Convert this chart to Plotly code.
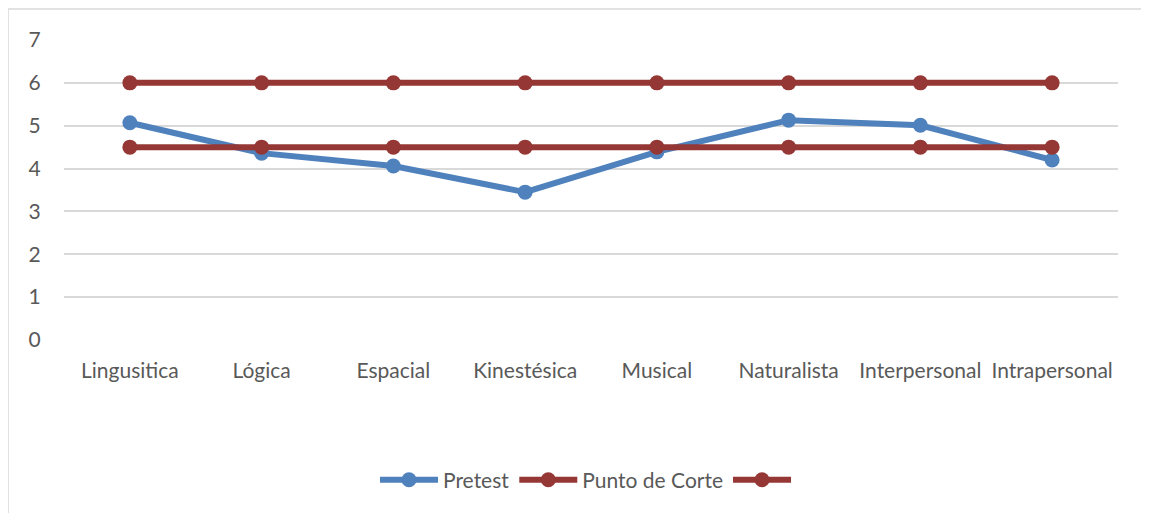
import plotly.graph_objects as go

categories = ["Lingusitica", "Lógica", "Espacial", "Kinestésica", "Musical",
              "Naturalista", "Interpersonal", "Intrapersonal"]
pretest = [5.07, 4.36, 4.06, 3.45, 4.39, 5.13, 5.01, 4.20]
punto_corte = [6, 6, 6, 6, 6, 6, 6, 6]
serie3 = [4.5, 4.5, 4.5, 4.5, 4.5, 4.5, 4.5, 4.5]
y_ticks = [0, 1, 2, 3, 4, 5, 6, 7]

BLUE = "#4F81BD"
RED = "#953735"
FONT = "Lato, 'Open Sans', sans-serif"

fig = go.Figure()
fig.add_trace(go.Scatter(x=categories, y=pretest, name="Pretest", mode="lines+markers",
                         line=dict(color=BLUE, width=6), marker=dict(size=15, color=BLUE)))
fig.add_trace(go.Scatter(x=categories, y=punto_corte, name="Punto de Corte", mode="lines+markers",
                         line=dict(color=RED, width=6), marker=dict(size=15, color=RED)))
fig.add_trace(go.Scatter(x=categories, y=serie3, name=" ", mode="lines+markers",
                         line=dict(color=RED, width=6), marker=dict(size=15, color=RED)))

# chart frame (left and top edges)
fig.add_shape(type="line", xref="paper", yref="paper", x0=-0.0531, x1=-0.0531, y0=1.1033, y1=-0.7,
              line=dict(color="#D9D9D9", width=1.5))
fig.add_shape(type="line", xref="paper", yref="paper", x0=-0.0531, x1=1.06, y0=1.1033, y1=1.1033,
              line=dict(color="#D9D9D9", width=1.5))

fig.update_layout(
    width=1149, height=513,
    margin=dict(l=56, r=39, t=32, b=181),
    paper_bgcolor="white", plot_bgcolor="white",
    font=dict(family=FONT, size=21, color="#595959"),
    showlegend=True,
    legend=dict(orientation="h", x=0.5, xanchor="center", y=-0.467, yanchor="middle",
                font=dict(size=21, color="#595959"), itemwidth=58, tracegroupgap=0),
)
fig.update_xaxes(showgrid=False, showline=False, zeroline=False,
                 ticks="outside", ticklen=12, tickcolor="rgba(0,0,0,0)",
                 range=[-0.5, 7.5])
fig.update_yaxes(range=[0, 7], tickvals=y_ticks, showgrid=True, gridcolor="#D9D9D9", gridwidth=1.5,
                 zeroline=False, showline=False, ticks="outside", ticklen=18,
                 tickcolor="rgba(0,0,0,0)")

fig.write_html("out.html")
